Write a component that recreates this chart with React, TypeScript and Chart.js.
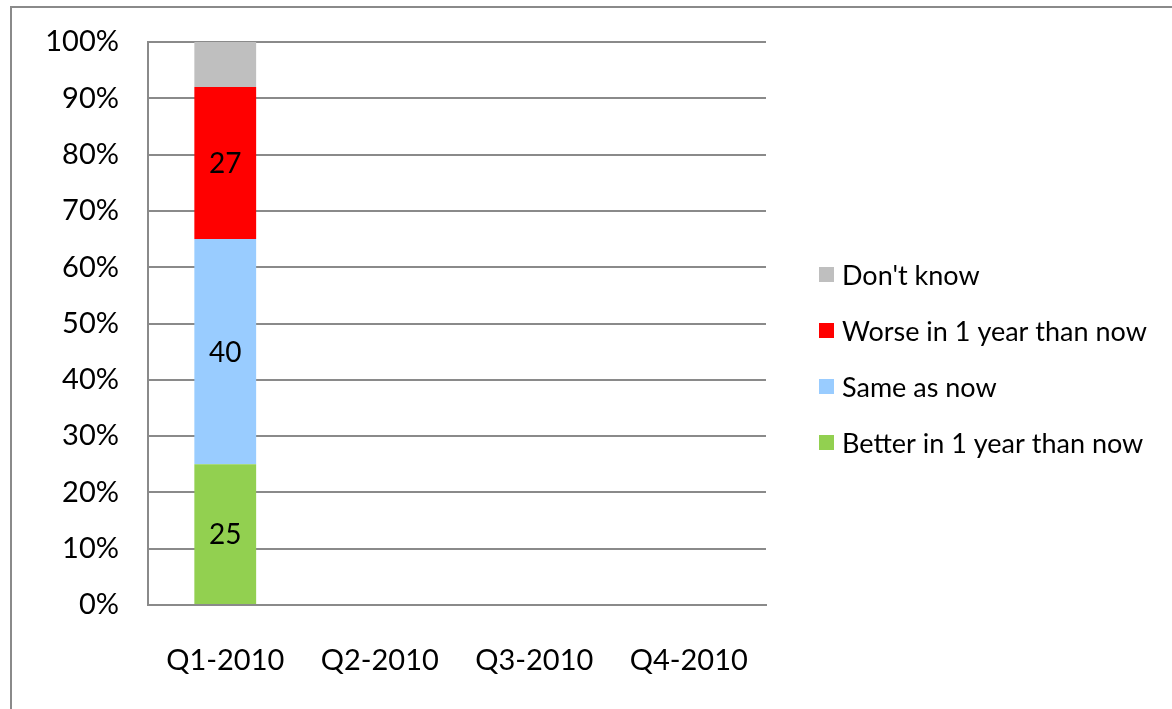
import React, { useEffect, useRef } from "react";
import { Chart, registerables } from "chart.js";

Chart.register(...registerables);

const categories = ["Q1-2010", "Q2-2010", "Q3-2010", "Q4-2010"];
const better = [25, null, null, null];
const same = [40, null, null, null];
const worse = [27, null, null, null];
const dontKnow = [8, null, null, null];
const yTicks = [0, 10, 20, 30, 40, 50, 60, 70, 80, 90, 100];

const seriesNames = ["Better in 1 year than now", "Same as now", "Worse in 1 year than now", "Don't know"];
const seriesColors = ["#92D050", "#99CCFF", "#FF0000", "#BFBFBF"];
const seriesShowLabel = [true, true, true, false];

const FONT = "Lato, 'Open Sans', sans-serif";
const GRID = "#8A8A8A";

export default function App() {
  const ref = useRef<HTMLCanvasElement | null>(null);

  useEffect(() => {
    if (!ref.current) return;
    const frame = {
      id: "frame",
      beforeDraw(chart: any) {
        const ctx = chart.ctx;
        ctx.save();
        ctx.fillStyle = "#FFFFFF";
        ctx.fillRect(0, 0, chart.width, chart.height);
        ctx.strokeStyle = GRID;
        ctx.lineWidth = 2;
        ctx.beginPath();
        ctx.moveTo(11, chart.height + 5);
        ctx.lineTo(11, 7);
        ctx.lineTo(chart.width + 5, 7);
        ctx.stroke();
        ctx.restore();
      },
    };
    const labels = {
      id: "segLabels",
      afterDatasetsDraw(chart: any) {
        const ctx = chart.ctx;
        ctx.save();
        ctx.font = `28px ${FONT}`;
        ctx.fillStyle = "#000";
        ctx.textAlign = "center";
        ctx.textBaseline = "middle";
        chart.data.datasets.forEach((ds: any, i: number) => {
          if (!seriesShowLabel[i]) return;
          const meta = chart.getDatasetMeta(i);
          meta.data.forEach((el: any, j: number) => {
            const v = ds.data[j];
            if (v == null) return;
            ctx.fillText(String(v), el.x, (el.y + el.base) / 2 + 1);
          });
        });
        ctx.restore();
      },
    };
    const legend = {
      id: "customLegend",
      afterDraw(chart: any) {
        const ctx = chart.ctx;
        ctx.save();
        ctx.font = `27px ${FONT}`;
        ctx.textBaseline = "middle";
        ctx.textAlign = "left";
        const x0 = chart.chartArea.right + 53;
        const yStart = 275;
        const step = 56;
        const order = [3, 2, 1, 0];
        order.forEach((idx, k) => {
          const cy = yStart + k * step;
          ctx.fillStyle = seriesColors[idx];
          ctx.fillRect(x0, cy - 8, 15, 15);
          ctx.fillStyle = "#000";
          ctx.fillText(seriesNames[idx], x0 + 23, cy + 1);
        });
        ctx.restore();
      },
    };

    const data = [better, same, worse, dontKnow];
    const chart = new Chart(ref.current, {
      type: "bar",
      data: {
        labels: categories,
        datasets: data.map((d, i) => ({
          label: seriesNames[i],
          data: d,
          backgroundColor: seriesColors[i],
          borderWidth: 0,
          barPercentage: 0.4,
          categoryPercentage: 1,
        })),
      },
      options: {
        responsive: false,
        animation: false,
        layout: { padding: { top: 42, right: 406, left: 0, bottom: 0 } },
        plugins: {
          legend: { display: false },
          tooltip: { enabled: false },
        },
        scales: {
          x: {
            stacked: true,
            grid: { display: false, drawTicks: false },
            border: { display: true, color: GRID, width: 2 },
            ticks: { color: "#000", font: { family: FONT, size: 29 }, padding: 38 },
            afterFit(scale: any) {
              scale.height = 104;
              scale.paddingLeft = 0;
              scale.paddingRight = 0;
            },
          },
          y: {
            stacked: true,
            min: 0,
            max: 100,
            afterBuildTicks(scale: any) {
              scale.ticks = yTicks.map((v) => ({ value: v }));
            },
            grid: { color: GRID, lineWidth: 2, drawTicks: false },
            border: { display: true, color: GRID, width: 2 },
            ticks: {
              color: "#000",
              font: { family: FONT, size: 29 },
              padding: 29,
              callback: (v: any) => v + "%",
            },
            afterFit(scale: any) {
              scale.width = 148;
              scale.paddingTop = 0;
              scale.paddingBottom = 0;
            },
          },
        },
      },
      plugins: [frame, labels, legend],
    } as any);
    return () => chart.destroy();
  }, []);

  return (
    <div style={{ position: "fixed", left: 0, top: 0, width: 1172, height: 709, background: "#fff" }}>
      <canvas ref={ref} width={1172} height={709} style={{ display: "block" }} />
    </div>
  );
}
